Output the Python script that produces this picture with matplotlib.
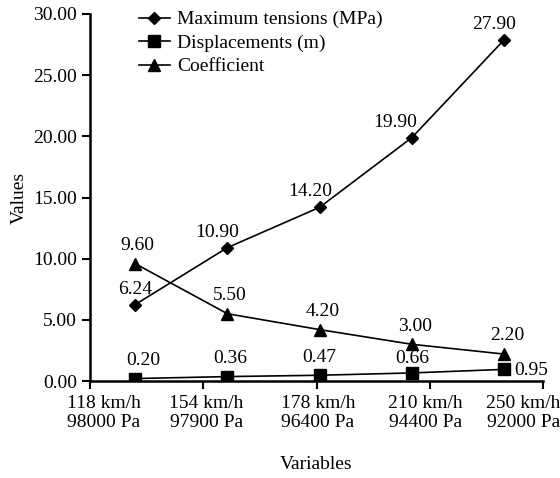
import matplotlib
matplotlib.use('Agg')
import matplotlib.pyplot as plt
from matplotlib.ticker import FormatStrFormatter, FixedLocator

plt.rcParams['font.family'] = ['Liberation Serif', 'DejaVu Serif']
plt.rcParams['font.size'] = 14

categories = ['118 km/h\n98000 Pa', '154 km/h\n97900 Pa', '178 km/h\n96400 Pa',
              '210 km/h\n94400 Pa', '250 km/h\n92000 Pa']
tensions = [6.24, 10.90, 14.20, 19.90, 27.90]
displacements = [0.20, 0.36, 0.47, 0.66, 0.95]
coefficient = [9.60, 5.50, 4.20, 3.00, 2.20]

x = list(range(len(categories)))

fig = plt.figure(figsize=(5.6, 4.78), dpi=100)
ax = fig.add_axes([90 / 560, 97 / 478, 453 / 560, 367 / 478])

ax.plot(x, tensions, color='black', lw=1.2, marker='D', ms=6, label='Maximum tensions (MPa)')
ax.plot(x, displacements, color='black', lw=1.2, marker='s', ms=8, label='Displacements (m)')
ax.plot(x, coefficient, color='black', lw=1.2, marker='^', ms=9, label='Coefficient')

# value labels
t_off = [(0, 5), (-7, 5), (-7, 5), (-12, 5), (-7, 5)]
for xi, v, off in zip(x, tensions, t_off):
    ax.annotate('%.2f' % v, (xi, v), xytext=off, textcoords='offset points',
                ha='center', va='bottom')
for xi, v in zip(x, coefficient):
    ax.annotate('%.2f' % v, (xi, v), xytext=(2, 7), textcoords='offset points',
                ha='center', va='bottom')
d_off = [(6, 7), (2, 7), (0, 7), (0, 4)]
for xi, v, off in zip(x[:4], displacements[:4], d_off):
    ax.annotate('%.2f' % v, (xi, v), xytext=off, textcoords='offset points',
                ha='center', va='bottom')
ax.annotate('%.2f' % displacements[4], (x[4], displacements[4]), xytext=(7, -1),
            textcoords='offset points', ha='left', va='center')

ax.set_ylim(0, 30)
ax.set_yticks([0, 5, 10, 15, 20, 25, 30])
ax.yaxis.set_major_formatter(FormatStrFormatter('%.2f'))

ax.set_xlim(-0.488, 4.42)
ax.xaxis.set_major_locator(FixedLocator([-0.488, 0.737, 1.973, 3.198, 4.42]))
ax.set_xticklabels([])
ax.xaxis.set_minor_locator(FixedLocator([-0.336, 0.77, 1.98, 3.15, 4.21]))
ax.set_xticklabels(categories, minor=True)
ax.tick_params(axis='x', which='minor', length=0, pad=10)
ax.tick_params(which='major', direction='out', length=6, width=1.5)

for s in ['top', 'right']:
    ax.spines[s].set_visible(False)
for s in ['left', 'bottom']:
    ax.spines[s].set_linewidth(1.8)

ax.set_ylabel('Values', labelpad=4)
ax.set_xlabel('Variables', labelpad=18)

ax.legend(loc='upper left', bbox_to_anchor=(0.09, 1.03), frameon=False,
          handlelength=1.6, handletextpad=0.4, labelspacing=0.3, borderaxespad=0)

fig.savefig('out.png', dpi=100)
